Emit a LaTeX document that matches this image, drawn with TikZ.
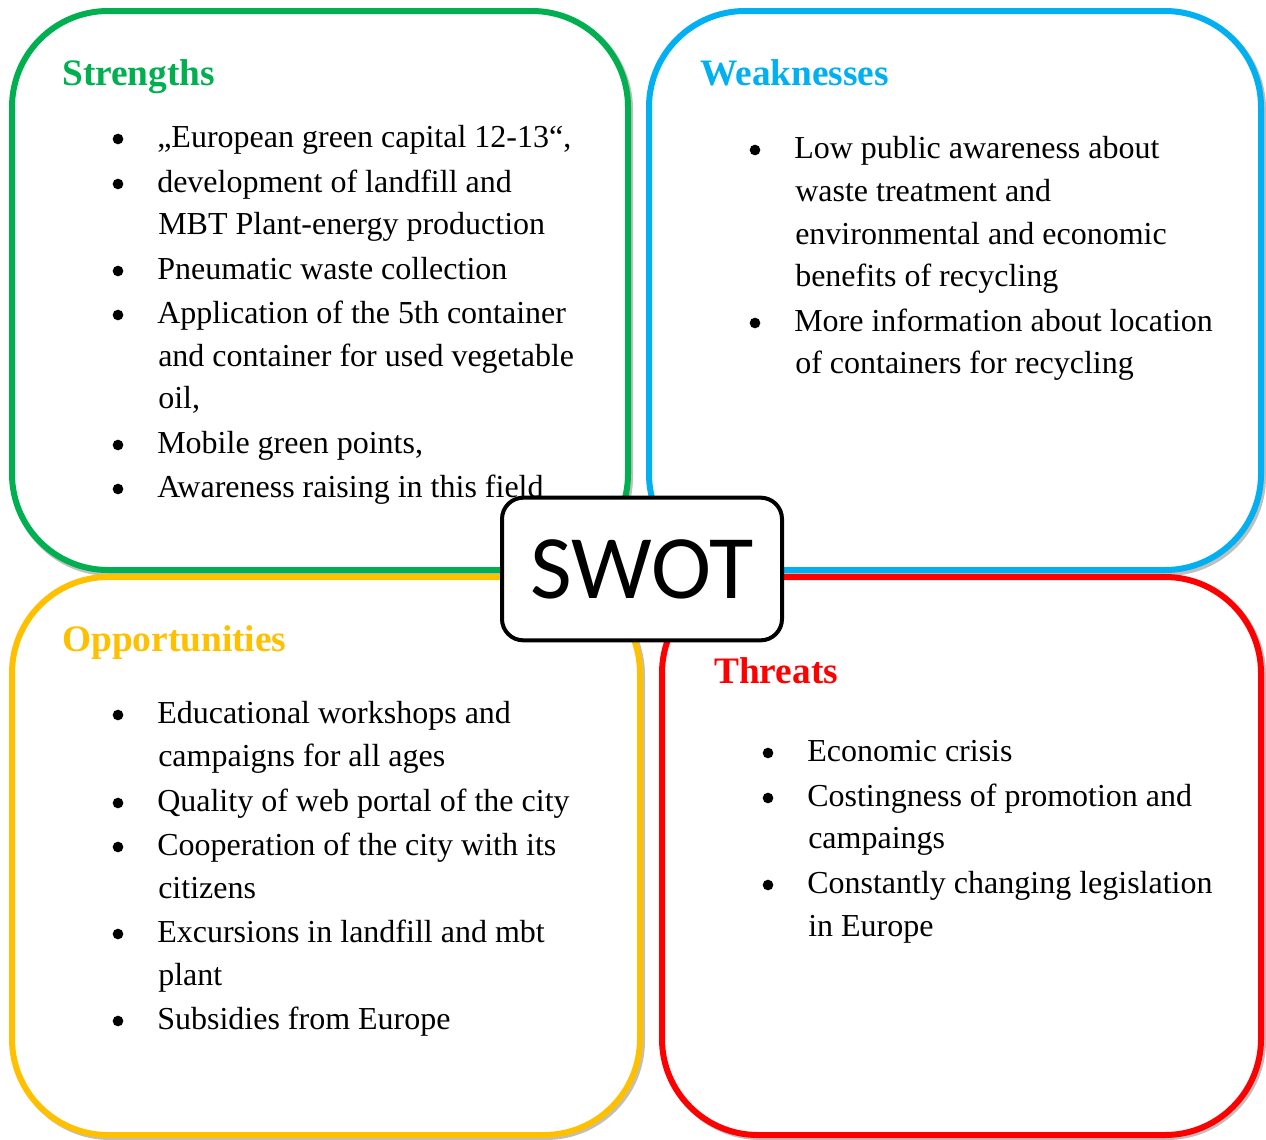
\documentclass[tikz,border=0pt]{standalone}
\usepackage{fontspec}
\setmainfont{Liberation Serif}
\newfontfamily\swotfont{Carlito}
\definecolor{sgreen}{HTML}{00B050}
\definecolor{sblue}{HTML}{00B0F0}
\definecolor{syellow}{HTML}{FFC000}
\definecolor{sred}{HTML}{FF0000}
\newcommand{\bitem}[4]{%
  \node[dot] (#1b) at (#2,#3-7) {};
  \node[txt] (#1) at (#2+39,#3+1) {#4};}
\newcommand{\contline}[4]{%
  \node[txt] (#1) at (#2+40,#3+1) {#4};}
\begin{document}
\begin{tikzpicture}[x=0.75pt,y=-0.75pt,
  box/.style={line width=4.5pt, rounded corners=72pt, fill=white},
  shadowbox/.style={line width=4.5pt, rounded corners=72pt, draw=black!25},
  head/.style={anchor=base west, inner sep=0pt, font=\fontsize{28}{34}\selectfont\bfseries},
  txt/.style={anchor=base west, inner sep=0pt, font=\fontsize{24}{29}\selectfont},
  dot/.style={circle, fill=black, inner sep=0pt, minimum size=8pt},
  swotbox/.style={draw=black, line width=3pt, rounded corners=16pt, fill=white,
    minimum width=210pt, minimum height=107pt, inner sep=0pt,
    font=\fontsize{68}{72}\selectfont\swotfont}]
\useasboundingbox (0,0) rectangle (1266,1139);
% Strengths box
\draw[shadowbox] (14,13) rectangle (630,573);
\draw[box, draw=sgreen] (12,11) rectangle (628,570);
% Weaknesses box
\draw[shadowbox] (651,13) rectangle (1263,573);
\draw[box, draw=sblue] (649,11) rectangle (1261,570);
% Opportunities box
\draw[shadowbox] (14,579) rectangle (642,1137);
\draw[box, draw=syellow] (12,577) rectangle (640,1135);
% Threats box
\draw[shadowbox] (664,579) rectangle (1263,1137);
\draw[box, draw=sred] (662,577) rectangle (1261,1135);

% Strengths text
\node[head, text=sgreen] (sh) at (62,85) {Strengths};
\bitem{s1}{118}{146}{„European green capital 12-13“,}
\bitem{s2}{118}{191}{development of landfill and}
\contline{s2b}{118}{233}{MBT Plant-energy production}
\bitem{s3}{118}{278}{Pneumatic waste collection}
\bitem{s4}{118}{322}{Application of the 5th container}
\contline{s4b}{118}{365}{and container for used vegetable}
\contline{s4c}{118}{407}{oil,}
\bitem{s5}{118}{452}{Mobile green points,}
\bitem{s6}{118}{496}{Awareness raising in this field}

% Weaknesses text
\node[head, text=sblue] (wh) at (700,85) {Weaknesses};
\bitem{w1}{755}{157}{Low public awareness about}
\contline{w1b}{755}{200}{waste treatment and}
\contline{w1c}{755}{243}{environmental and economic}
\contline{w1d}{755}{285}{benefits of recycling}
\bitem{w2}{755}{330}{More information about location}
\contline{w2b}{755}{372}{of containers for recycling}

% Opportunities text
\node[head, text=syellow] (oh) at (62,651) {Opportunities};
\bitem{o1}{118}{722}{Educational workshops and}
\contline{o1b}{118}{765}{campaigns for all ages}
\bitem{o2}{118}{810}{Quality of web portal of the city}
\bitem{o3}{118}{854}{Cooperation of the city with its}
\contline{o3b}{118}{897}{citizens}
\bitem{o4}{118}{941}{Excursions in landfill and mbt}
\contline{o4b}{118}{984}{plant}
\bitem{o5}{118}{1028}{Subsidies from Europe}

% Threats text
\node[head, text=sred] (th) at (714,683) {Threats};
\bitem{t1}{768}{760}{Economic crisis}
\bitem{t2}{768}{805}{Costingness of promotion and}
\contline{t2b}{768}{847}{campaings}
\bitem{t3}{768}{892}{Constantly changing legislation}
\contline{t3b}{768}{935}{in Europe}

% SWOT centre
\node[swotbox] (swot) at (642,569) {SWOT};
\end{tikzpicture}
\end{document}
